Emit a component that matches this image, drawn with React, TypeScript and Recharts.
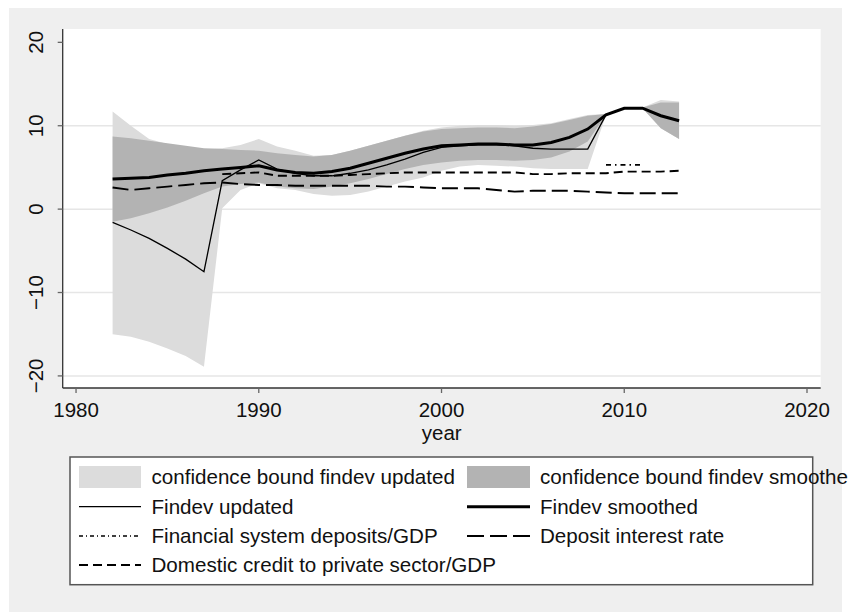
import React from "react";
import {
  ComposedChart,
  Area,
  Line,
  XAxis,
  YAxis,
  CartesianGrid,
  Label,
} from "recharts";

document.body.style.margin = "0";
document.body.style.overflow = "hidden";

const FONT = '"Liberation Sans", Arial, Helvetica, sans-serif';

const years = [
  1982, 1983, 1984, 1985, 1986, 1987, 1988, 1989, 1990, 1991, 1992, 1993, 1994, 1995, 1996, 1997,
  1998, 1999, 2000, 2001, 2002, 2003, 2004, 2005, 2006, 2007, 2008, 2009, 2010, 2011, 2012, 2013,
];

const lightLower = [
  -15.0, -15.3, -15.9, -16.7, -17.6, -18.9, 0.1, 2.3, 3.1, 2.5, 2.3, 1.8, 1.6, 1.7, 2.1, 2.7,
  3.3, 3.8, 4.6, 5.1, 5.3, 5.2, 5.1, 4.9, 4.8, 4.8, 4.8, 11.3, 12.1, 12.1, 9.7, 8.4,
];
const lightUpper = [
  11.7, 10.0, 8.4, 7.8, 7.5, 7.2, 7.3, 7.7, 8.4, 7.5, 7.0, 6.4, 6.5, 7.0, 7.6, 8.2,
  8.8, 9.4, 9.8, 10.0, 10.1, 10.1, 10.0, 10.1, 10.3, 10.8, 11.3, 11.4, 12.2, 12.2, 13.1, 12.9,
];
const darkLower = [
  -1.5, -1.1, -0.5, 0.2, 1.0, 1.9, 2.7, 3.0, 3.2, 2.7, 2.5, 2.4, 2.7, 3.1, 3.6, 4.2,
  4.8, 5.3, 5.6, 5.8, 5.9, 5.9, 5.8, 5.9, 6.2, 6.9, 8.1, 11.3, 12.1, 12.1, 9.7, 8.4,
];
const darkUpper = [
  8.7, 8.5, 8.2, 7.9, 7.6, 7.3, 7.2, 7.1, 7.0, 6.7, 6.5, 6.3, 6.5, 7.0, 7.6, 8.2,
  8.8, 9.3, 9.6, 9.7, 9.8, 9.8, 9.7, 9.9, 10.2, 10.7, 11.2, 11.4, 12.2, 12.2, 12.8, 12.8,
];
const findevUpdated = [
  -1.6, -2.5, -3.5, -4.7, -6.0, -7.5, 3.4, 4.7, 5.9, 4.8, 4.3, 4.0, 4.0, 4.3, 4.7, 5.3,
  6.0, 6.8, 7.4, 7.6, 7.7, 7.7, 7.6, 7.3, 7.2, 7.2, 7.2, 11.3, 12.1, 12.1, 11.2, 10.6,
];
const findevSmoothed = [
  3.6, 3.7, 3.8, 4.1, 4.3, 4.6, 4.8, 5.0, 5.2, 4.7, 4.4, 4.3, 4.5, 4.9, 5.5, 6.1,
  6.7, 7.2, 7.6, 7.7, 7.8, 7.8, 7.7, 7.7, 8.0, 8.6, 9.6, 11.3, 12.1, 12.1, 11.2, 10.6,
];
const finDeposits = [
  null, null, null, null, null, null, null, null, null, null, null, null, null, null, null, null,
  null, null, null, null, null, null, null, null, null, null, null, 5.3, 5.3, 5.3, null, null,
];
const depositRate = [
  2.6, 2.3, 2.5, 2.7, 2.9, 3.1, 3.2, 3.0, 2.9, 2.9, 2.8, 2.8, 2.8, 2.8, 2.8, 2.7,
  2.7, 2.6, 2.5, 2.5, 2.5, 2.3, 2.1, 2.2, 2.2, 2.2, 2.1, 2.0, 1.9, 1.9, 1.9, 1.9,
];
const domesticCredit = [
  null, null, null, null, null, null, 4.2, 4.3, 4.4, 4.0, 4.0, 4.0, 4.0, 4.1, 4.2, 4.3,
  4.4, 4.4, 4.4, 4.4, 4.4, 4.4, 4.4, 4.2, 4.2, 4.3, 4.3, 4.3, 4.5, 4.5, 4.5, 4.6,
];

const xTicks = [1980, 1990, 2000, 2010, 2020];
const yTicks = [-20, -10, 0, 10, 20];
const yTickLabels = ["\u221220", "\u221210", "0", "10", "20"];
const gridValues = [-20, -10, 0, 10];

const LIGHT = "#dcdcdc";
const DARK = "#b3b3b3";

const data = years.map((year, i) => ({
  year,
  lightBand: [lightLower[i], lightUpper[i]],
  darkBand: [darkLower[i], darkUpper[i]],
  updated: findevUpdated[i],
  smoothed: findevSmoothed[i],
  finDep: finDeposits[i],
  deposit: depositRate[i],
  credit: domesticCredit[i],
}));

// legend entries, in Stata order (two columns)
const legendItems = [
  { label: "confidence bound findev updated", kind: "box", fill: LIGHT },
  { label: "confidence bound findev smoothed", kind: "box", fill: DARK },
  { label: "Findev updated", kind: "line", width: 1.3, dash: "" },
  { label: "Findev smoothed", kind: "line", width: 3, dash: "" },
  { label: "Financial system deposits/GDP", kind: "line", width: 1.5, dash: "4 3 1 3" },
  { label: "Deposit interest rate", kind: "line", width: 1.8, dash: "17 6" },
  { label: "Domestic credit to private sector/GDP", kind: "line", width: 1.8, dash: "9 5" },
];

const YTick = (props: any) => {
  const { x, y, payload } = props;
  const idx = yTicks.indexOf(payload.value);
  return (
    <text
      x={x}
      y={y}
      transform={`rotate(-90 ${x} ${y})`}
      textAnchor="middle"
      fontSize={20.5}
      fontFamily={FONT}
      fill="#111"
    >
      {yTickLabels[idx]}
    </text>
  );
};

const XTick = (props: any) => {
  const { x, y, payload } = props;
  return (
    <text x={x} y={y} dy={14.7} textAnchor="middle" fontSize={20.5} fontFamily={FONT} fill="#111">
      {payload.value}
    </text>
  );
};

function StataLegend() {
  const rowCenters = [477, 506.7, 536, 565];
  const cols = [
    { x0: 79, x1: 141, tx: 151.5 },
    { x0: 467, x1: 530, tx: 540 },
  ];
  return (
    <svg
      width={848}
      height={612}
      style={{ position: "absolute", left: 0, top: 0, pointerEvents: "none" }}
    >
      <rect x={70} y={457} width={742.7} height={127.7} fill="#fff" stroke="#555" strokeWidth={1.5} />
      {legendItems.map((item, i) => {
        const row = Math.floor(i / 2);
        const col = cols[i % 2];
        const cy = rowCenters[row];
        return (
          <g key={item.label}>
            {item.kind === "box" ? (
              <rect x={col.x0} y={cy - 11} width={col.x1 - col.x0} height={22} fill={item.fill} />
            ) : (
              <line
                x1={col.x0}
                x2={col.x1}
                y1={cy}
                y2={cy}
                stroke="#000"
                strokeWidth={item.width}
                strokeDasharray={item.dash || undefined}
              />
            )}
            <text x={col.tx} y={cy + 7.3} fontSize={20.6} fontFamily={FONT} fill="#111">
              {item.label}
            </text>
          </g>
        );
      })}
    </svg>
  );
}

export default function App() {
  return (
    <div style={{ position: "relative", width: 848, height: 612, background: "#fff", overflow: "hidden" }}>
      <div style={{ position: "absolute", left: 9, top: 8, width: 833, height: 604, background: "#efefef" }} />
      <div style={{ position: "absolute", left: 0, top: 0 }}>
        <ComposedChart
          width={848}
          height={612}
          data={data}
          margin={{ top: 29, right: 27.3, bottom: 0, left: 0 }}
        >
          <CartesianGrid
            vertical={false}
            horizontalValues={gridValues}
            stroke="#e6e6e6"
            strokeWidth={1.5}
            fill="#fff"
            fillOpacity={1}
          />
          <XAxis
            dataKey="year"
            type="number"
            domain={[1979.27, 2020.75]}
            allowDataOverflow
            ticks={xTicks}
            height={224}
            tickSize={5}
            tickMargin={9}
            axisLine={{ stroke: "#333", strokeWidth: 1.3 }}
            tickLine={{ stroke: "#666", strokeWidth: 1.3 }}
            tick={<XTick />}
            interval={0}
          >
            <Label
              content={(p: any) => {
                const vb = p.viewBox;
                return (
                  <text
                    x={vb.x + vb.width / 2}
                    y={vb.y + 52}
                    textAnchor="middle"
                    fontSize={20.5}
                    fontFamily={FONT}
                    fill="#111"
                  >
                    year
                  </text>
                );
              }}
            />
          </XAxis>
          <YAxis
            type="number"
            domain={[-21.45, 21.6]}
            allowDataOverflow
            ticks={yTicks}
            width={62.7}
            tickSize={5}
            tickMargin={14.5}
            axisLine={{ stroke: "#333", strokeWidth: 1.3 }}
            tickLine={{ stroke: "#666", strokeWidth: 1.3 }}
            tick={<YTick />}
            interval={0}
          />
          <Area
            type="linear"
            dataKey="lightBand"
            stroke="none"
            fill={LIGHT}
            fillOpacity={1}
            isAnimationActive={false}
            activeDot={false}
          />
          <Area
            type="linear"
            dataKey="darkBand"
            stroke="none"
            fill={DARK}
            fillOpacity={1}
            isAnimationActive={false}
            activeDot={false}
          />
          <Line type="linear" dataKey="updated" stroke="#000" strokeWidth={1.3} dot={false} isAnimationActive={false} />
          <Line type="linear" dataKey="smoothed" stroke="#000" strokeWidth={3} dot={false} isAnimationActive={false} />
          <Line
            type="linear"
            dataKey="finDep"
            stroke="#000"
            strokeWidth={1.8}
            strokeDasharray="5 4 1.5 4"
            dot={false}
            isAnimationActive={false}
          />
          <Line
            type="linear"
            dataKey="deposit"
            stroke="#000"
            strokeWidth={1.9}
            strokeDasharray="16 6"
            dot={false}
            isAnimationActive={false}
          />
          <Line
            type="linear"
            dataKey="credit"
            stroke="#000"
            strokeWidth={1.9}
            strokeDasharray="9 5"
            dot={false}
            isAnimationActive={false}
          />
        </ComposedChart>
      </div>
      <StataLegend />
    </div>
  );
}
